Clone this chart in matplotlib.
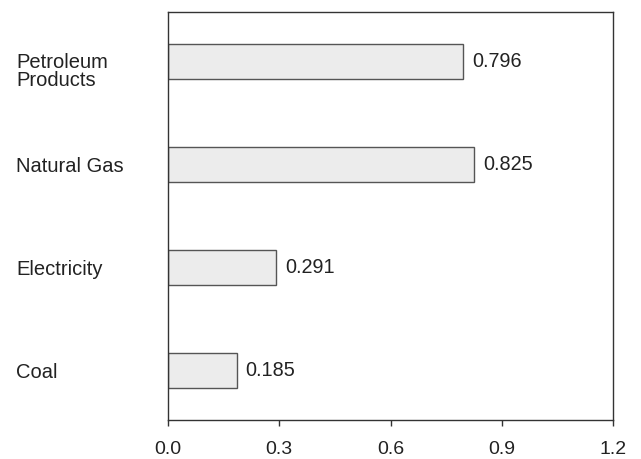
import matplotlib
matplotlib.use("Agg")
import matplotlib.pyplot as plt
from matplotlib.transforms import ScaledTranslation, blended_transform_factory

categories = ["Coal", "Electricity", "Natural Gas", "Petroleum\nProducts"]
values = [0.185, 0.291, 0.825, 0.796]
value_labels = ["0.185", "0.291", "0.825", "0.796"]
xticks = [0.0, 0.3, 0.6, 0.9, 1.2]
xtick_labels = ["0.0", "0.3", "0.6", "0.9", "1.2"]

plt.rcParams['font.family'] = ['Liberation Sans', 'DejaVu Sans']
text_color = "#222222"

fig = plt.figure(figsize=(6.41, 4.59), dpi=100)
ax = fig.add_axes([168/641, 1-420/459, (613-168)/641, (420-12)/459])

ypos = list(range(len(categories)))
ax.barh(ypos, values, height=0.34, color="#ececec", edgecolor="#555555", linewidth=1.0)
for y, v, lab in zip(ypos, values, value_labels):
    ax.annotate(lab, (v, y), xytext=(6.5, 0), textcoords="offset points",
                ha="left", va="center", fontsize=14.3, color=text_color)

ax.set_xlim(0, 1.2)
ax.set_ylim(-0.485, 3.485)
ax.set_xticks(xticks)
ax.set_xticklabels(xtick_labels, fontsize=14, color=text_color)
ax.set_yticks(ypos)
ax.set_yticklabels([])
ax.tick_params(axis="y", length=0)
ax.tick_params(axis="x", length=4, width=1.0, color="#333333", pad=11)

base = blended_transform_factory(fig.transFigure, ax.transData)
for y, cat in zip(ypos, categories):
    if "\n" in cat:
        tr = base + ScaledTranslation(0, -0.1, fig.dpi_scale_trans)
        va = "center"
    else:
        tr = base
        va = "center_baseline"
    ax.text(16/641, y, cat, transform=tr, ha="left", va=va,
            fontsize=14.5, color=text_color, linespacing=0.92)

for s in ax.spines.values():
    s.set_color("#333333")
    s.set_linewidth(1.0)

fig.savefig("out.png", dpi=100)
